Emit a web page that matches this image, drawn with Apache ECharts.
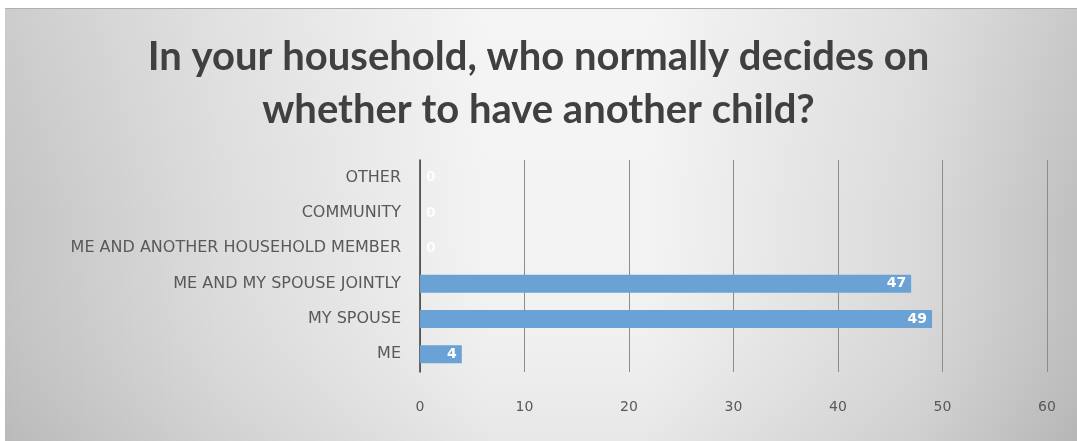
<!DOCTYPE html>
<html>
<head>
<meta charset="utf-8">
<script src="https://cdn.jsdelivr.net/npm/echarts@6/dist/echarts.min.js"></script>
<style>
html,body{margin:0;padding:0;background:#fff;}
#c{width:1077px;height:441px;}
</style>
</head>
<body>
<div id="c"></div>
<script>
const titleText = 'In your household, who normally decides on\nwhether to have another child?';
const categories = ['ME', 'MY SPOUSE', 'ME AND MY SPOUSE JOINTLY', 'ME AND ANOTHER HOUSEHOLD MEMBER', 'COMMUNITY', 'OTHER'];
const values = [4, 49, 47, 0, 0, 0];
const xTicks = {min: 0, max: 60, interval: 10};

const barData = values.map(v => v === 0
  ? {value: v, label: {position: 'right', distance: 6, color: 'rgba(255,255,255,0.85)'}}
  : v);

const chart = echarts.init(document.getElementById('c'), null, {renderer: 'canvas'});
chart.setOption({
  animation: false,
  backgroundColor: '#ffffff',
  graphic: [{
    type: 'rect',
    z: -10,
    silent: true,
    shape: {x: 5, y: 8, width: 1072, height: 433},
    style: {
      fill: new echarts.graphic.LinearGradient(0, 0, 1, 0, [
        {offset: 0, color: '#c4c4c4'},
        {offset: 0.2, color: '#dcdcdc'},
        {offset: 0.45, color: '#f3f3f3'},
        {offset: 0.6, color: '#f3f3f3'},
        {offset: 0.85, color: '#dadada'},
        {offset: 1, color: '#c0c0c0'}
      ])
    }
  }, {
    type: 'rect',
    z: -9,
    silent: true,
    shape: {x: 5, y: 8, width: 1072, height: 433},
    style: {
      fill: new echarts.graphic.LinearGradient(0, 0, 0, 1, [
        {offset: 0, color: 'rgba(255,255,255,0.15)'},
        {offset: 0.5, color: 'rgba(255,255,255,0)'},
        {offset: 1, color: 'rgba(0,0,0,0.05)'}
      ])
    }
  }, {
    type: 'line',
    silent: true,
    shape: {x1: 5, y1: 8.5, x2: 1077, y2: 8.5},
    style: {stroke: '#b0b0b0', lineWidth: 1}
  }],
  title: {
    text: titleText,
    left: 'center',
    top: 26,
    textStyle: {
      fontFamily: 'Lato',
      fontWeight: 'bold',
      fontSize: 40,
      color: '#404040',
      lineHeight: 53
    }
  },
  grid: {left: 420, right: 30, top: 160, bottom: 69, containLabel: false},
  xAxis: {
    type: 'value',
    min: xTicks.min, max: xTicks.max, interval: xTicks.interval,
    axisLine: {show: false},
    axisTick: {show: false},
    splitLine: {show: true, lineStyle: {color: '#8c8c8c', width: 1}},
    axisLabel: {color: '#595959', fontSize: 14, fontFamily: 'DejaVu Sans', margin: 28}
  },
  yAxis: {
    type: 'category',
    data: categories,
    axisLine: {show: true, lineStyle: {color: '#404040', width: 1.5}},
    axisTick: {show: false},
    axisLabel: {color: '#595959', fontSize: 16, fontFamily: 'DejaVu Sans', margin: 19}
  },
  series: [{
    type: 'bar',
    data: barData,
    barWidth: 18,
    itemStyle: {color: '#6aa2d6'},
    label: {
      show: true,
      position: 'insideRight',
      color: '#ffffff',
      fontWeight: 'bold',
      fontSize: 14,
      fontFamily: 'DejaVu Sans'
    }
  }]
});
</script>
</body>
</html>
